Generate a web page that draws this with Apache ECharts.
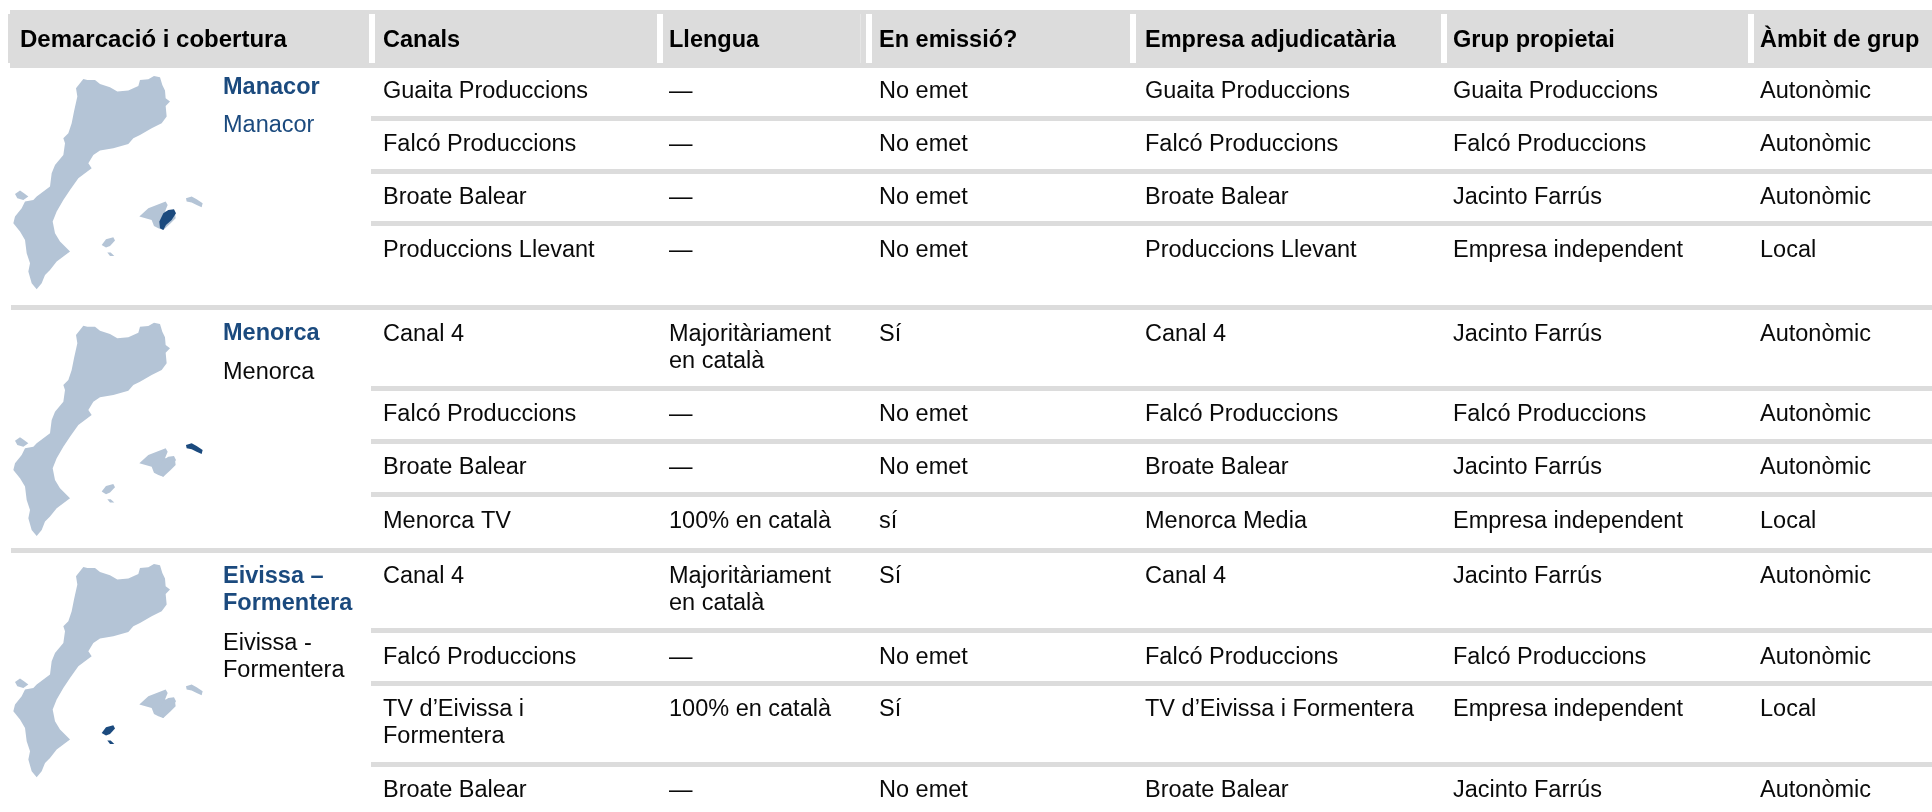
<!DOCTYPE html>
<html><head><meta charset="utf-8">
<style>html,body{margin:0;padding:0;background:#fff}#c{width:1932px;height:812px}</style>
<script src="https://cdn.jsdelivr.net/npm/echarts@6/dist/echarts.min.js"></script>
</head><body><div id="c"></div>
<script>
// ---- table content ----
const headers = ['Demarcació i cobertura','Canals','Llengua','En emissió?','Empresa adjudicatària','Grup propietai','Àmbit de grup'];
const canals = ['Guaita Produccions','Falcó Produccions','Broate Balear','Produccions Llevant','Canal 4','Falcó Produccions','Broate Balear','Menorca TV','Canal 4','Falcó Produccions','TV d’Eivissa i\nFormentera','Broate Balear'];
const llengua = ['—','—','—','—','Majoritàriament\nen català','—','—','100% en català','Majoritàriament\nen català','—','100% en català','—'];
const emissio = ['No emet','No emet','No emet','No emet','Sí','No emet','No emet','sí','Sí','No emet','Sí','No emet'];
const empresa = ['Guaita Produccions','Falcó Produccions','Broate Balear','Produccions Llevant','Canal 4','Falcó Produccions','Broate Balear','Menorca Media','Canal 4','Falcó Produccions','TV d’Eivissa i Formentera','Broate Balear'];
const grup = ['Guaita Produccions','Falcó Produccions','Jacinto Farrús','Empresa independent','Jacinto Farrús','Falcó Produccions','Jacinto Farrús','Empresa independent','Jacinto Farrús','Falcó Produccions','Empresa independent','Jacinto Farrús'];
const ambit = ['Autonòmic','Autonòmic','Autonòmic','Local','Autonòmic','Autonòmic','Autonòmic','Local','Autonòmic','Autonòmic','Local','Autonòmic'];
const demarcacions = ['Manacor','Menorca','Eivissa –\nFormentera'];
const cobertures = ['Manacor','Menorca','Eivissa -\nFormentera'];
const mapHighlights = [['Manacor'],['Menorca'],['Eivissa','Formentera']];

// ---- layout (pixel scale of the hidden axes) ----
const colX = [20,383,669,879,1145,1453,1760];
const rowY = [90.5,143.5,196,249,333.5,413,466.5,520.5,575.5,656,708.5,789.5];
const demarcY = [[86.5,124.5],[332,371.5],[575.5,642]];
const headerSeparators = [369,657,866,1130,1441,1748];
const shortRules = [116,169,221,386,439,492,628,681,762];
const longRules = [305,548];
const mapCenters = [[108,182.6],[108,429.3],[108,670.6]];

// ---- map outlines, drawn by the library's map series ----
const mainland = [[250,237],[262,240],[285,240],[300,252],[330,262],[352,275],[385,272],[415,258],[420,240],[445,238],[462,228],[480,232],[487,255],[495,272],[497,295],[510,305],[497,318],[500,350],[485,370],[455,385],[420,405],[400,415],[385,432],[340,445],[300,452],[280,465],[265,490],[275,505],[255,520],[235,535],[210,570],[190,600],[170,635],[158,665],[165,700],[180,725],[210,755],[190,770],[170,785],[150,810],[135,825],[125,850],[110,868],[95,850],[85,815],[90,790],[80,760],[75,720],[60,695],[40,670],[45,650],[65,625],[75,605],[100,600],[110,590],[150,560],[155,520],[165,495],[190,465],[195,430],[190,415],[205,400],[215,370],[222,335],[232,290],[228,265],[250,237]];
const ademuz = [[45,582],[60,572],[72,580],[85,590],[70,600],[52,595],[45,582]];
const mallorca = [[418,650],[445,625],[470,615],[497,605],[503,615],[495,635],[525,640],[527,655],[512,670],[490,690],[475,685],[462,678],[455,660],[418,650]];
const manacor = [[478,665],[490,640],[505,630],[522,628],[528,640],[515,660],[498,675],[490,690],[480,685],[478,665]];
const menorca = [[558,595],[575,590],[590,598],[608,610],[605,622],[590,615],[575,608],[560,605],[558,595]];
const eivissa = [[305,735],[318,718],[340,712],[345,722],[330,738],[318,743],[305,735]];
const formentera = [[322,758],[332,758],[343,768],[330,768],[322,758]];
const regions = {Mainland:mainland,Ademuz:ademuz,Mallorca:mallorca,Manacor:manacor,Menorca:menorca,Eivissa:eivissa,Formentera:formentera};

const geoJson = {type:'FeatureCollection',features:Object.keys(regions).map(n=>({type:'Feature',properties:{name:n},geometry:{type:'Polygon',coordinates:[regions[n]]}}))};

const GREY='#DCDCDC', BLUE='#1B4A7E', LAND='#B4C4D6', INK='#0a0a0a';
const FONT='"Liberation Sans",Arial,sans-serif';

const chart = echarts.init(document.getElementById('c'),null,{renderer:'canvas'});
demarcacions.forEach((d,i)=>echarts.registerMap('dem'+i,geoJson));
const identity={project:p=>p,unproject:p=>p};
const mapSeries = demarcacions.map((d,i)=>({
  type:'map',map:'dem'+i,projection:identity,aspectScale:1,roam:false,silent:true,
  layoutCenter:mapCenters[i],layoutSize:213.3,
  label:{show:false},emphasis:{disabled:true},select:{disabled:true},
  itemStyle:{areaColor:LAND,borderWidth:0},
  data:Object.keys(regions).map(n=>({name:n,value:1,itemStyle:{areaColor:mapHighlights[i].includes(n)?BLUE:LAND,borderWidth:0}}))
}));

// cells: [x, y, text, style]
const columns=[canals,llengua,emissio,empresa,grup,ambit];
const cells=[];
headers.forEach((h,c)=>cells.push([colX[c],39,h,c===0?'head0':'head']));
columns.forEach((col,c)=>col.forEach((t,r)=>cells.push([colX[c+1],rowY[r],t,t.includes('\n')?'cell2':'cell'])));
demarcacions.forEach((d,i)=>{
  cells.push([223,demarcY[i][0],d,d.includes('\n')?'title2':'title']);
  cells.push([223,demarcY[i][1],cobertures[i],i===0?'subBlue':(cobertures[i].includes('\n')?'sub2':'sub')]);
});
const SIZE='23.5px ';
const styles={
  head0:{font:'bold 24px '+FONT,fill:'#000'},
  head:{font:'bold '+SIZE+FONT,fill:'#000'},
  cell:{font:SIZE+FONT,fill:INK},
  cell2:{font:SIZE+FONT,fill:INK,lineHeight:27,top:true},
  title:{font:'bold '+SIZE+FONT,fill:BLUE},
  title2:{font:'bold '+SIZE+FONT,fill:BLUE,lineHeight:27,top:true},
  sub:{font:SIZE+FONT,fill:INK},
  subBlue:{font:SIZE+FONT,fill:BLUE},
  sub2:{font:SIZE+FONT,fill:INK,lineHeight:27,top:true}
};
const rects=[[10,10,1922,58,GREY],[8,14,2,49,GREY]];
headerSeparators.forEach(x=>rects.push([x,14,6,49,'#fff']));
rects.push([860,14,1,49,'#e6e6e6']);
shortRules.forEach(y=>rects.push([371,y,1561,5,GREY]));
longRules.forEach(y=>rects.push([11,y,1921,5,GREY]));

chart.setOption({
  animation:false,
  backgroundColor:'#fff',
  grid:{left:0,right:0,top:0,bottom:0},
  xAxis:{type:'value',min:0,max:1932,show:false},
  yAxis:{type:'value',min:0,max:812,inverse:true,show:false},
  series:[
    {type:'custom',silent:true,z:1,coordinateSystem:'cartesian2d',clip:false,
     encode:{x:0,y:1},data:rects,
     renderItem(p,api){
       const d=rects[p.dataIndex];
       const a=api.coord([d[0],d[1]]),b=api.coord([d[0]+d[2],d[1]+d[3]]);
       return {type:'rect',shape:{x:a[0],y:a[1],width:b[0]-a[0],height:b[1]-a[1]},style:{fill:d[4]}};
     }},
    ...mapSeries,
    {type:'custom',silent:true,z:3,coordinateSystem:'cartesian2d',clip:false,
     encode:{x:0,y:1},data:cells.map(c=>[c[0],c[1]]),
     renderItem(p,api){
       const c=cells[p.dataIndex],s=styles[c[3]];
       const a=api.coord([c[0],c[1]]);
       const st={text:c[2],font:s.font,fill:s.fill,align:'left',verticalAlign:s.top?'top':'middle'};
       if(s.lineHeight) st.lineHeight=s.lineHeight;
       return {type:'text',x:a[0],y:a[1]+1.5-(s.top?13.5:0),style:st};
     }}
  ]
});
</script></body></html>
